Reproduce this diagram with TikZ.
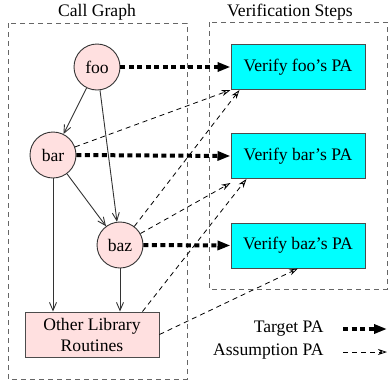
\documentclass[tikz,border=0pt]{standalone}
\usepackage{fontspec}
\setmainfont{Liberation Serif}
\usetikzlibrary{arrows.meta,positioning}
\definecolor{funcpink}{RGB}{255,224,224}
\definecolor{stepcyan}{RGB}{0,255,255}

\begin{document}
\begin{tikzpicture}[x=1pt,y=-1pt,font=\fontsize{17.6}{21}\selectfont]
\tikzstyle{func}=[circle,draw=black!80,fill=funcpink,minimum size=46pt,inner sep=0pt,line width=0.9pt]
\tikzstyle{lib}=[rectangle,draw=black!70,fill=funcpink,minimum width=134pt,minimum height=45pt,align=center,inner sep=0pt,line width=1pt]
\tikzstyle{verify}=[rectangle,draw=black!70,fill=stepcyan,minimum width=134pt,minimum height=45pt,line width=1pt]
\tikzstyle{group}=[draw=black!60,dash pattern=on 5pt off 4pt,line width=0.9pt]
\tikzstyle{calls}=[draw=black!80,line width=0.9pt,-{Straight Barb[length=8pt,width=7pt]}]
\tikzstyle{target}=[line width=4pt,dash pattern=on 5pt off 3.5pt,-{Triangle[length=13pt,width=9pt]}]
\tikzstyle{assume}=[line width=0.8pt,dash pattern=on 5pt off 4pt,-{Stealth[open,length=9pt,width=6pt]}]

\useasboundingbox (0,0) rectangle (388,381);

% the two groups
\draw[group] (8,23) rectangle (187,379);
\draw[group] (209,22) rectangle (387,289);
\node (cgtitle) at (97,12) {Call Graph};
\node (vstitle) at (290,12) {Verification Steps};

% call graph
\node[func] (foo) at (97,67) {foo};
\node[func] (bar) at (53,155) {bar};
\node[func] (baz) at (120,245) {baz};
\node[lib] (other) at (92,334.5) {Other Library\\Routines};

% verification steps
\node[verify] (vfoo) at (298,67) {Verify foo's PA};
\node[verify] (vbar) at (298,156) {Verify bar's PA};
\node[verify] (vbaz) at (298,245.5) {Verify baz's PA};

\draw[calls] (foo) -- (bar);
\draw[calls] (foo) -- (baz);
\draw[calls] (bar) -- (baz);
\draw[calls] (bar.south) -- (bar.south |- other.north);
\draw[calls] (baz.south) -- (baz.south |- other.north);

\draw[target] (foo.east) -- (vfoo.west);
\draw[target] (bar.east) -- (vbar.west);
\draw[target] (baz.east) -- (vbaz.west);

\draw[assume] (bar) -- (vfoo.south west);
\draw[assume] (baz) -- ([xshift=9pt]vfoo.south west);
\draw[assume] (baz) -- ([yshift=-4pt]vbar.south west);
\draw[assume] ([xshift=-17pt]other.north east) -- ([xshift=16pt]vbar.south west);
\draw[assume] (other.east) -- (vbaz.south);

% legend
\node[anchor=east] (ltarget) at (327,329) {Target PA};
\node[anchor=east] (lassume) at (327,352) {Assumption PA};
\coordinate (ta) at (343,329);
\coordinate (tb) at (387,329);
\coordinate (aa) at (343,352);
\coordinate (ab) at (387,352);
\draw[target] (ta) -- (tb);
\draw[assume] (aa) -- (ab);
\end{tikzpicture}
\end{document}
